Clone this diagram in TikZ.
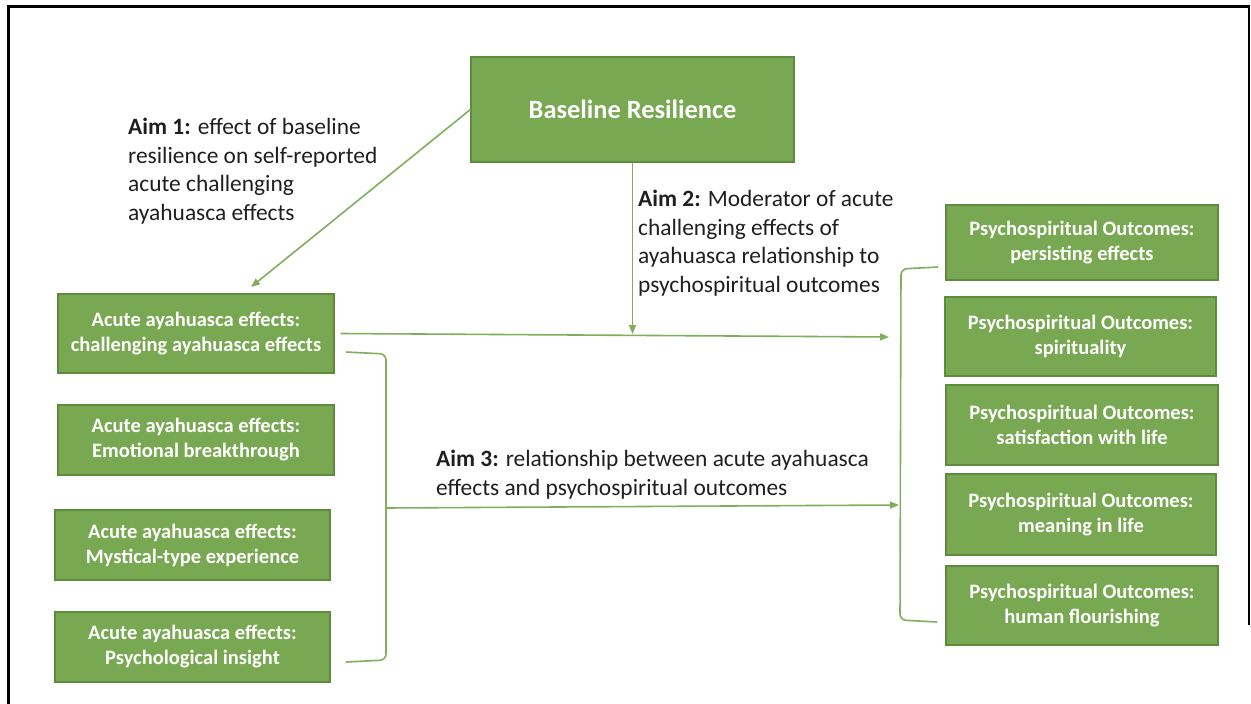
\documentclass[tikz,border=0pt]{standalone}
\usepackage{fontspec}
\setmainfont{Carlito}
\usetikzlibrary{arrows.meta}

\definecolor{boxgreen}{HTML}{78A952}
\definecolor{boxedge}{HTML}{5F8C3C}
\definecolor{linegreen}{HTML}{80AE5C}

\tikzset{
  greenbox/.style={draw=boxedge, line width=1.2pt, fill=boxgreen, text=white,
    font=\bfseries\fontsize{20.5}{25}\selectfont, align=center, inner sep=0pt},
  aimtext/.style={anchor=north west, align=left, inner sep=0pt, text=black!88,
    font=\fontsize{23.4}{28.5}\selectfont},
  conn/.style={draw=linegreen, line width=1.6pt},
  arr/.style={conn, -{Triangle[length=9pt, width=7pt]}},
}

\begin{document}
\begin{tikzpicture}[x=1pt, y=-1pt]
    \useasboundingbox (0,0) rectangle (1251,704);

    % frame
    \draw[line width=3pt] (8,704) -- (8,6.5) -- (1250,6.5);
    \draw[line width=1.2pt] (1249,6.5) -- (1249,625);

    % boxes
    \node[greenbox, minimum width=323pt, minimum height=105pt, font=\bfseries\fontsize{26.4}{30}\selectfont]
        (base) at (632.5,109.5) {Baseline Resilience};

    \node[greenbox, minimum width=276pt, minimum height=79pt] (acute1) at (196,333.5)
        {Acute ayahuasca effects:\\challenging ayahuasca effects};
    \node[greenbox, minimum width=276pt, minimum height=70pt] (acute2) at (196,440)
        {Acute ayahuasca effects:\\Emotional breakthrough};
    \node[greenbox, minimum width=275pt, minimum height=70pt] (acute3) at (192.5,545)
        {Acute ayahuasca effects:\\Mystical-type experience};
    \node[greenbox, minimum width=275pt, minimum height=70pt] (acute4) at (192.5,647)
        {Acute ayahuasca effects:\\Psychological insight};

    \node[greenbox, minimum width=272pt, minimum height=75pt] (outc1) at (1082,242.5)
        {Psychospiritual Outcomes:\\persisting effects};
    \node[greenbox, minimum width=271pt, minimum height=79pt] (outc2) at (1080.5,336.5)
        {Psychospiritual Outcomes:\\spirituality};
    \node[greenbox, minimum width=272pt, minimum height=80pt] (outc3) at (1082,425)
        {Psychospiritual Outcomes:\\satisfaction with life};
    \node[greenbox, minimum width=270pt, minimum height=81pt] (outc4) at (1081,514.5)
        {Psychospiritual Outcomes:\\meaning in life};
    \node[greenbox, minimum width=272pt, minimum height=79pt] (outc5) at (1082,605.5)
        {Psychospiritual Outcomes:\\human flourishing};

    % aim labels
    \node[aimtext] (aim1) at (128,118) {\textbf{Aim 1:} effect of baseline\\resilience on self-reported\\acute challenging\\ayahuasca effects};
    \node[aimtext] (aim2) at (638,190) {\textbf{Aim 2:} Moderator of acute\\challenging effects of\\ayahuasca relationship to\\psychospiritual outcomes};
    \node[aimtext] (aim3) at (436,450) {\textbf{Aim 3:} relationship between acute ayahuasca\\effects and psychospiritual outcomes};

    % brackets
    \coordinate (lbtop) at (346,352);
    \coordinate (lbbot) at (346,662);
    \coordinate (lbmid) at (386,508);
    \coordinate (rbtop) at (938,267);
    \coordinate (rbbot) at (937,622);
    \draw[conn, rounded corners=6pt] (lbtop) -- (386,354) -- (386,660) -- (lbbot);
    \draw[conn, rounded corners=6pt] (rbtop) -- (901,269) -- (900,620) -- (rbbot);

    % arrows
    \coordinate (a1end) at (251,287);
    \coordinate (a2end) at (632.5,334);
    \coordinate (hend) at (889,337);
    \coordinate (a3end) at (899,505);
    \draw[arr] (base.west) -- (a1end);
    \draw[arr] (base.south) -- (a2end);
    \draw[arr] ([xshift=6pt]acute1.east) -- (hend);
    \draw[arr] (lbmid) -- (a3end);
\end{tikzpicture}
\end{document}
